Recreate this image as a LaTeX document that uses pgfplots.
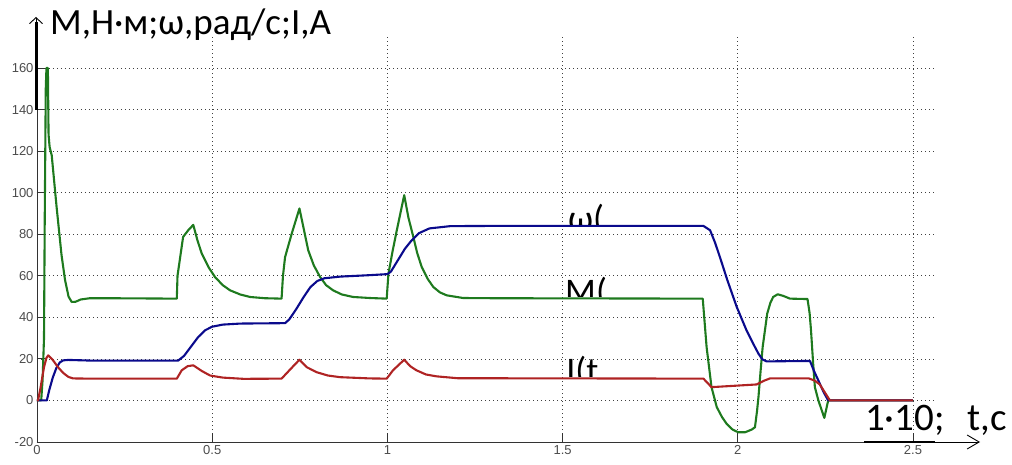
\documentclass[border=0pt]{standalone}
\usepackage{fontspec}
\setmainfont{Carlito}
\newfontfamily\tickfont{Liberation Sans}
\usepackage{pgfplots}
\pgfplotsset{compat=1.18}
\usetikzlibrary{arrows.meta}
\definecolor{mgreen}{RGB}{30,122,30}
\definecolor{wblue}{RGB}{10,10,140}
\definecolor{ired}{RGB}{175,35,35}
\begin{document}
\begin{tikzpicture}
\useasboundingbox (-37pt,-22pt) rectangle (975pt,442pt);
\begin{axis}[
  at={(0pt,0pt)}, anchor=south west,
  scale only axis, width=897pt, height=406pt,
  xmin=0, xmax=2.56, ymin=-20, ymax=175.4,
  axis x line*=bottom, axis y line*=left,
  axis line style={black!80, line width=0.8pt},
  xtick={0,0.5,1,1.5,2,2.5},
  xticklabels={0,0.5,1,1.5,2,2.5},
  ytick={-20,0,20,40,60,80,100,120,140,160},
  grid=major,
  grid style={black!75, line width=0.7pt, dash pattern=on 0.8pt off 3.2pt},
  tick align=inside, major tick length=9pt,
  tick style={black!80, line width=0.8pt},
  ticklabel style={font=\tickfont\fontsize{13}{14}\selectfont, text=black!70},
  /pgf/number format/assume math mode=true,
  clip=false,
  every axis plot/.append style={line width=2.1pt, line join=round},
]
\addplot[mgreen] coordinates {
(0,0) (0.012,0) (0.016,10) (0.02,30) (0.022,85) (0.025,150) (0.027,160) (0.031,160) (0.033,128) (0.036,122) (0.042,118) (0.056,93) (0.07,70) (0.08,58) (0.09,50) (0.099,47.4) (0.11,47.5) (0.125,48.6) (0.151,49.2) (0.2,49.2) (0.399,49)
(0.401,60) (0.417,78.7) (0.432,82) (0.446,84.5) (0.458,77) (0.47,70.8) (0.49,64) (0.508,59.4) (0.53,55.5) (0.551,53) (0.58,51) (0.608,49.8) (0.65,49.2) (0.698,49)
(0.702,60) (0.708,69) (0.727,80.3) (0.749,92.4) (0.762,82) (0.774,72.3) (0.79,65) (0.808,59.4) (0.825,55.5) (0.845,53) (0.87,51) (0.902,49.8) (0.95,49.3) (0.998,49)
(1.003,61) (1.015,72) (1.027,82) (1.048,98.8) (1.06,88) (1.074,78.7) (1.085,71) (1.098,64.2) (1.115,58.5) (1.131,54.6) (1.15,52) (1.169,50.6) (1.216,49.3) (1.3,49.2) (1.9,49)
(1.911,25.7) (1.925,6.4) (1.94,-3.2) (1.955,-8) (1.968,-11.2) (1.985,-14) (2.001,-15.3) (2.021,-15.3) (2.04,-14) (2.049,-12.9) (2.055,-5) (2.059,1.6) (2.065,14) (2.071,25.7) (2.084,41.8) (2.093,47) (2.101,49.8) (2.114,51.1) (2.13,50.3) (2.149,49) (2.199,48.8)
(2.205,42) (2.209,33.7) (2.215,18) (2.22,6.4) (2.23,0) (2.247,-8.4) (2.258,0) (2.5,0)
};
\addplot[wblue] coordinates {
(0,0) (0.028,0) (0.035,5) (0.045,11) (0.055,15.5) (0.065,18.3) (0.075,19.3) (0.09,19.5) (0.15,19.2) (0.403,19.2)
(0.42,21.5) (0.44,26) (0.46,30.5) (0.48,33.8) (0.5,35.5) (0.53,36.5) (0.58,37) (0.708,37.2)
(0.72,39) (0.74,44) (0.76,49.5) (0.78,54.5) (0.8,57.5) (0.82,58.8) (0.865,59.6) (0.95,60.3) (1.0,60.8)
(1.01,62) (1.03,67.5) (1.05,73) (1.069,77) (1.09,80.5) (1.12,82.8) (1.18,83.9) (1.3,84) (1.902,84)
(1.921,81.9) (1.935,76) (1.949,69) (1.97,58) (1.997,45) (2.025,33.7) (2.045,27) (2.059,22.5) (2.07,19.8) (2.082,18.8) (2.206,19)
(2.218,14) (2.23,9.6) (2.245,4) (2.258,0) (2.5,0)
};
\addplot[ired] coordinates {
(0,0) (0.003,0) (0.01,6) (0.02,16) (0.027,20.5) (0.032,21.7) (0.045,19.5) (0.06,16) (0.075,13.2) (0.09,11.3) (0.103,10.6) (0.15,10.5) (0.399,10.5)
(0.413,14.5) (0.43,16.5) (0.446,16.9) (0.47,14.2) (0.494,12) (0.53,11) (0.589,10.4) (0.698,10.5)
(0.723,15) (0.749,19.6) (0.77,16) (0.798,13.6) (0.83,12) (0.865,11.2) (0.95,10.6) (0.998,10.5)
(1.016,14.5) (1.048,19.6) (1.065,16.5) (1.083,14.5) (1.11,12.5) (1.14,11.6) (1.2,10.7) (1.902,10.5)
(1.925,6.4) (2.054,7.7) (2.075,9.5) (2.092,10.6) (2.203,10.6) (2.22,9.5) (2.234,7.7) (2.263,0) (2.5,0)
};
\begin{scope}
\clip (axis cs:1.45,84.8) rectangle (axis cs:1.8,120);
\node[anchor=base west, inner sep=0pt, font=\fontsize{36}{37}\selectfont] at (axis cs:1.515,82) {ω(};
\end{scope}
\begin{scope}
\clip (axis cs:1.45,49.8) rectangle (axis cs:1.8,80);
\node[anchor=base west, inner sep=0pt, font=\fontsize{36}{37}\selectfont] at (axis cs:1.507,46.5) {М(};
\end{scope}
\begin{scope}
\clip (axis cs:1.45,11.3) rectangle (axis cs:1.8,40);
\node[anchor=base west, inner sep=0pt, font=\fontsize{36}{37}\selectfont] at (axis cs:1.51,8.6) {I(t};
\end{scope}
\end{axis}
% annotation arrows and labels
\draw[line width=3pt] (-1pt,332pt) -- (-1pt,420pt);
\draw[line width=0.9pt, -{Straight Barb[length=6pt,width=13pt]}] (-1pt,400pt) -- (-1pt,425pt);
\node[anchor=base west, inner sep=0pt, font=\fontsize{37}{38}\selectfont] at (13pt,407pt) {М,Н·м;ω,рад/с;I,А};
\draw[line width=0.9pt, -{Straight Barb[length=12pt,width=14pt]}] (890pt,0pt) -- (943pt,0pt);
\draw[line width=2pt] (827pt,0.5pt) -- (898pt,0.5pt);
\node[anchor=base west, inner sep=0pt, font=\fontsize{39}{40}\selectfont] at (828pt,12pt) {1·10;};
\node[anchor=base west, inner sep=0pt, font=\fontsize{39}{40}\selectfont] at (930pt,12pt) {t,c};
\end{tikzpicture}
\end{document}
